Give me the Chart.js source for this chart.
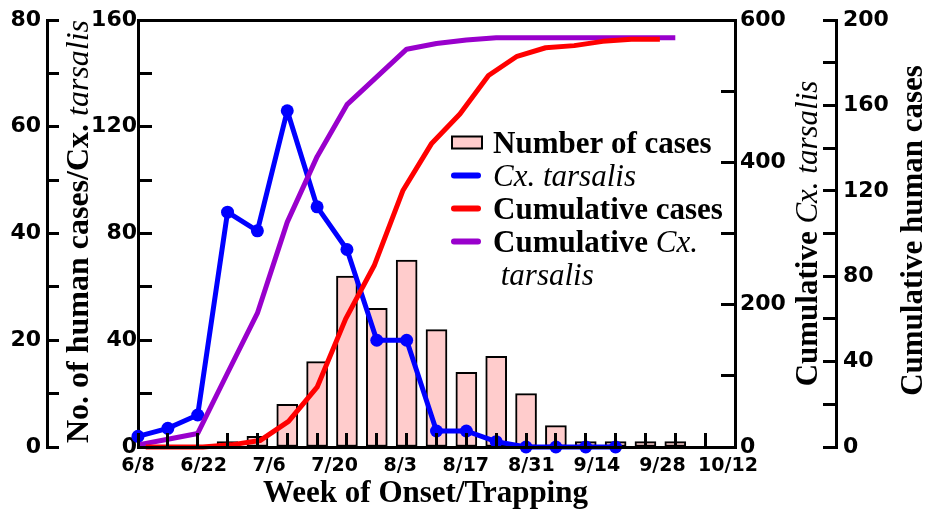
<!DOCTYPE html>
<html>
<head>
<meta charset="utf-8">
<script src="https://cdn.jsdelivr.net/npm/chart.js@4.4.1/dist/chart.umd.min.js"></script>
<style>
  html, body { margin: 0; padding: 0; background: #fff; }
  canvas { display: block; }
</style>
</head>
<body>
<canvas id="chart" width="926" height="511"></canvas>
<script>
// Week labels along the bottom axis (every second week)
const weekLabels = ['6/8', '6/22', '7/6', '7/20', '8/3', '8/17', '8/31', '9/14', '9/28', '10/12'];

// Weekly human cases (week index 0 = 6/8)
const caseWeeks = [3, 4, 5, 6, 7, 8, 9, 10, 11, 12, 13, 14, 15, 16, 17, 18];
const weeklyCases = [1, 2, 8, 16, 32, 26, 35, 22, 14, 17, 10, 4, 1, 1, 1, 1];

// Weekly Cx. tarsalis counts
const mosquitoWeeks = [0, 1, 2, 3, 4, 5, 6, 7, 8, 9, 10, 11, 12, 13, 14, 15, 16];
const weeklyMosquitoes = [4, 7, 12, 88, 81, 126, 90, 74, 40, 40, 6, 6, 2, 0, 0, 0, 0];

// Running totals
const cumulativeWeeks = [0, 1, 2, 3, 4, 5, 6, 7, 8, 9, 10, 11, 12, 13, 14, 15, 16, 17, 18];
const cumulativeCases = [0, 0, 0, 1, 3, 12, 28, 60, 85, 120, 142, 156, 174, 183, 187, 188, 190, 191, 191];
const cumulativeMosquitoes = [3, 11, 19, 104, 188, 316, 408, 481, 520, 559, 567, 572, 575, 575, 575, 575, 575, 575, 575];

const SERIF = '"Liberation Serif", "Times New Roman", serif';
const SANS = '"DejaVu Sans", sans-serif';
const TITLE_SIZE = 31;
const tickFont = { family: SANS, weight: 'bold', size: 22 };

const pts = (xs, ys) => xs.map((x, k) => ({ x: x, y: ys[k] }));

// Species names are set in italics, everything else in bold
function richParts(text) {
  return text.split(/(\s+)/).filter(s => s.length).map(s => ({
    t: s, i: /^(Cx\.|tarsalis)$/.test(s)
  }));
}
function fontOf(p, size) {
  return (p.i ? 'italic ' : 'bold ') + size + 'px ' + SERIF;
}
function partsWidth(ctx, parts, size) {
  let w = 0;
  for (const p of parts) { ctx.font = fontOf(p, size); w += ctx.measureText(p.t).width; }
  return w;
}
function drawParts(ctx, parts, x, y, size) {
  let cx = x;
  for (const p of parts) {
    ctx.font = fontOf(p, size);
    ctx.fillText(p.t, cx, y);
    cx += ctx.measureText(p.t).width;
  }
}
function wrapParts(ctx, parts, size, maxW) {
  const lines = [[]];
  let w = 0;
  for (const p of parts) {
    ctx.font = fontOf(p, size);
    const pw = ctx.measureText(p.t).width;
    const isSpace = !p.t.trim();
    if (!isSpace && w + pw > maxW && lines[lines.length - 1].length) {
      // carry the preceding space onto the new line
      const cur = lines[lines.length - 1];
      const carried = cur.length && !cur[cur.length - 1].t.trim() ? [cur.pop()] : [];
      lines.push(carried);
      w = partsWidth(ctx, carried, size);
    }
    lines[lines.length - 1].push(p);
    w += pw;
  }
  return lines;
}
function drawVerticalTitle(ctx, text, baselineX, centerY, size) {
  const parts = richParts(text);
  ctx.save();
  ctx.translate(baselineX, centerY);
  ctx.rotate(-Math.PI / 2);
  ctx.textBaseline = 'alphabetic';
  drawParts(ctx, parts, -partsWidth(ctx, parts, size) / 2, 0, size);
  ctx.restore();
}

const textLayer = {
  id: 'textLayer',
  afterDraw(chart) {
    const ctx = chart.ctx;
    const area = chart.chartArea;
    const midY = (area.top + area.bottom) / 2;
    ctx.save();
    ctx.fillStyle = '#000';
    ctx.textAlign = 'left';

    // axis titles
    drawVerticalTitle(ctx, 'No. of human cases/Cx. tarsalis', area.left - 50, midY - 2, 32);
    drawVerticalTitle(ctx, 'Cumulative Cx. tarsalis', area.right + 82, midY, TITLE_SIZE);
    drawVerticalTitle(ctx, 'Cumulative human cases', area.right + 187, midY - 3, TITLE_SIZE);
    const xt = richParts('Week of Onset/Trapping');
    ctx.textBaseline = 'alphabetic';
    drawParts(ctx, xt, (area.left + area.right) / 2 - 11 - partsWidth(ctx, xt, TITLE_SIZE) / 2, 502, TITLE_SIZE);

    // legend
    const lx = area.left + 313, textX = lx + 42, rowH = 33, maxW = area.right - textX;
    let baseY = 153;
    for (const ds of chart.data.datasets) {
      const cy = baseY - 10.5;
      if (ds.type === 'bar') {
        ctx.fillStyle = ds.backgroundColor;
        ctx.fillRect(lx + 1, cy - 6, 30, 12);
        ctx.strokeStyle = '#000';
        ctx.lineWidth = 2;
        ctx.strokeRect(lx + 1, cy - 6, 30, 12);
      } else {
        ctx.strokeStyle = ds.borderColor;
        ctx.lineWidth = 6;
        ctx.lineCap = 'round';
        ctx.beginPath();
        ctx.moveTo(lx + 3, cy);
        ctx.lineTo(lx + 27, cy);
        ctx.stroke();
      }
      ctx.fillStyle = '#000';
      const lines = wrapParts(ctx, richParts(ds.label), TITLE_SIZE, maxW);
      for (const ln of lines) {
        drawParts(ctx, ln, textX, baseY, TITLE_SIZE);
        baseY += rowH;
      }
    }
    ctx.restore();
  }
};

// fixed box sizes for each axis, without extra label overhang padding
function fixBox(dim, size) {
  return s => {
    s[dim] = size;
    s.paddingTop = 0; s.paddingBottom = 0; s.paddingLeft = 0; s.paddingRight = 0;
  };
}

function yAxis(pos, weight, max, step, labelStep, tickLen, pad, width) {
  return {
    type: 'linear', position: pos, weight: weight, min: 0, max: max,
    ticks: {
      stepSize: step, padding: pad, autoSkip: false, color: '#000', font: tickFont,
      callback: v => (v % labelStep === 0 ? String(v) : '')
    },
    grid: { drawOnChartArea: false, drawTicks: true, tickLength: -tickLen, tickWidth: 3, tickColor: '#000' },
    border: { display: true, width: 3, color: '#000' },
    afterFit: fixBox('width', width)
  };
}

new Chart(document.getElementById('chart'), {
  data: {
    datasets: [
      {
        type: 'bar', label: 'Number of cases',
        data: pts(caseWeeks, weeklyCases),
        xAxisID: 'x', yAxisID: 'yCases',
        backgroundColor: '#ffcccc', borderColor: '#000', borderWidth: 2,
        borderSkipped: false, grouped: false, barThickness: 21, order: 4
      },
      {
        type: 'line', label: 'Cx. tarsalis',
        data: pts(mosquitoWeeks, weeklyMosquitoes),
        xAxisID: 'x', yAxisID: 'yCx',
        borderColor: '#0000ff', backgroundColor: '#0000ff', borderWidth: 5,
        pointRadius: 6.5, pointBorderWidth: 0, pointBackgroundColor: '#0000ff',
        borderJoinStyle: 'round', tension: 0, clip: false, order: 3
      },
      {
        type: 'line', label: 'Cumulative cases',
        data: pts(cumulativeWeeks, cumulativeCases),
        xAxisID: 'xShift', yAxisID: 'yHum',
        borderColor: '#ff0000', borderWidth: 5, pointRadius: 0,
        borderJoinStyle: 'round', tension: 0, clip: false, order: 1
      },
      {
        type: 'line', label: 'Cumulative Cx. tarsalis',
        data: pts(cumulativeWeeks, cumulativeMosquitoes),
        xAxisID: 'x', yAxisID: 'yCum',
        borderColor: '#9900cc', borderWidth: 5, pointRadius: 0,
        borderJoinStyle: 'round', tension: 0, clip: false, order: 2
      }
    ]
  },
  options: {
    responsive: false,
    devicePixelRatio: 1,
    animation: false,
    layout: { padding: { left: 0, right: 0, top: 20, bottom: 0 } },
    plugins: { legend: { display: false }, tooltip: { enabled: false }, title: { display: false } },
    scales: {
      x: {
        type: 'linear', position: 'bottom', weight: 1, min: 0, max: 20, offset: false,
        ticks: { display: false, stepSize: 1, autoSkip: false, maxTicksLimit: 100 },
        // week tick marks and the axis line sit on top of the bars
        grid: { z: 1, offset: false, drawOnChartArea: false, drawTicks: true, tickLength: -14, tickWidth: 3, tickColor: '#000' },
        border: { z: 1, display: true, width: 3, color: '#000' },
        afterFit: fixBox('height', 0)
      },
      xWeeks: {
        type: 'linear', position: 'bottom', weight: 2, min: 0, max: 9.107, offset: false,
        ticks: {
          stepSize: 1, includeBounds: false, autoSkip: false, maxRotation: 0, padding: 8,
          color: '#000', font: { family: SANS, weight: 'bold', size: 19 },
          callback: v => weekLabels[v]
        },
        grid: { display: false, drawTicks: false },
        border: { display: false },
        afterFit: fixBox('height', 64)
      },
      xShift: { type: 'linear', position: 'bottom', display: false, offset: false, min: -0.27, max: 20.63 },
      xTop: {
        type: 'linear', position: 'top', min: 0, max: 20, offset: false,
        ticks: { display: false },
        grid: { drawOnChartArea: false, drawTicks: false },
        border: { display: true, width: 3, color: '#000' },
        afterFit: fixBox('height', 0)
      },
      yCx: yAxis('left', 1, 160, 20, 40, 14, 15, 91),
      yCases: yAxis('left', 2, 80, 10, 20, 12, 18, 47),
      yCum: yAxis('right', 1, 600, 100, 200, 14, 19, 101),
      yHum: yAxis('right', 2, 200, 20, 40, 13, 20, 90)
    }
  },
  plugins: [textLayer]
});
</script>
</body>
</html>
